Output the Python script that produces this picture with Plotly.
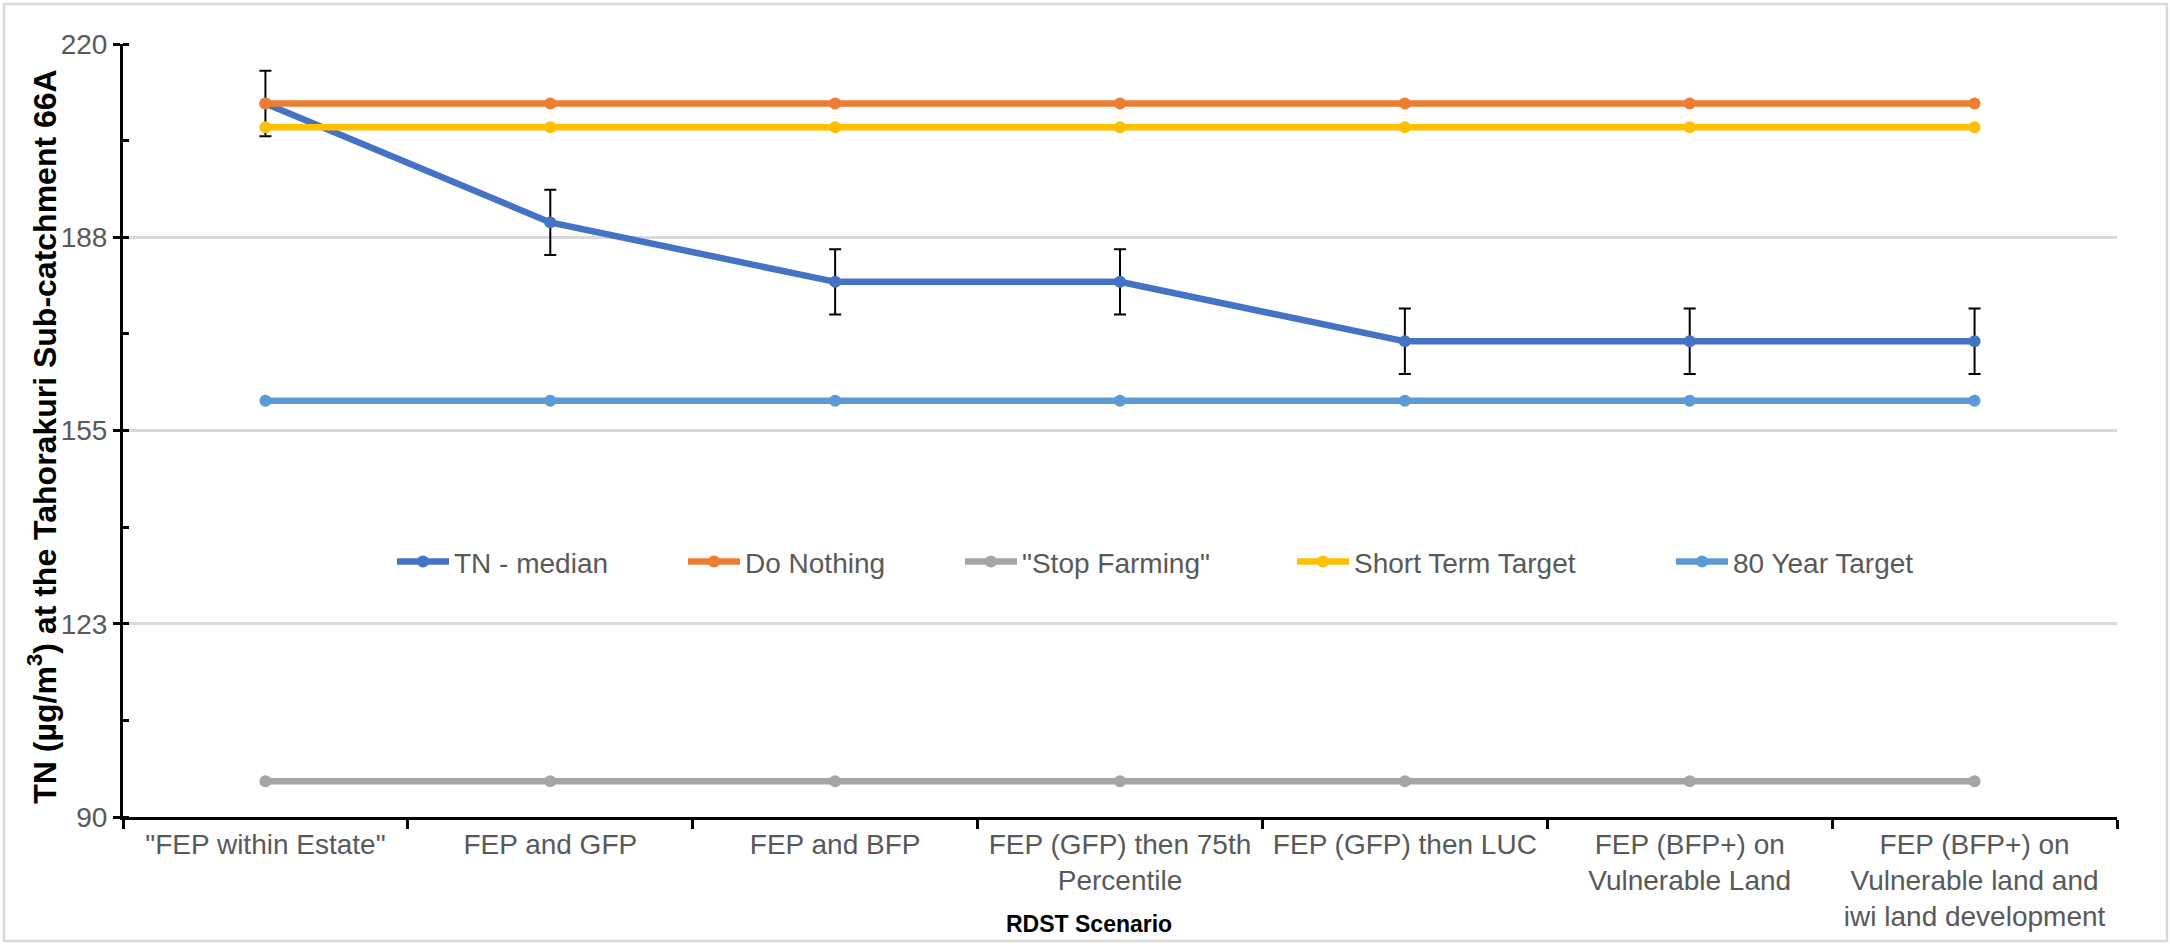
import plotly.graph_objects as go

# RDST scenarios along the x axis
scenarios = [
    '"FEP within Estate"',
    "FEP and GFP",
    "FEP and BFP",
    "FEP (GFP) then 75th<br>Percentile",
    "FEP (GFP) then LUC",
    "FEP (BFP+) on<br>Vulnerable Land",
    "FEP (BFP+) on<br>Vulnerable land and<br>iwi land development",
]

# TN concentrations (µg/m³)
tn_median = [210, 190, 180, 180, 170, 170, 170]
tn_error = [5.5, 5.5, 5.5, 5.5, 5.5, 5.5, 5.5]
do_nothing = [210, 210, 210, 210, 210, 210, 210]
stop_farming = [96, 96, 96, 96, 96, 96, 96]
short_term_target = [206, 206, 206, 206, 206, 206, 206]
year80_target = [160, 160, 160, 160, 160, 160, 160]

# y axis ticks
y_tickvals = [90, 122.5, 155, 187.5, 220]
y_ticktext = ["90", "123", "155", "188", "220"]

W, H = 2170, 944
ML, MR, MT, MB = 123, 53, 44, 127
PW, PH = W - ML - MR, H - MT - MB

FONT = "Liberation Sans, Arial, Helvetica, sans-serif"
TXT = "#595959"

series = [
    ("TN - median", tn_median, "#4472C4", True),
    ("Do Nothing", do_nothing, "#ED7D31", False),
    ('"Stop Farming"', stop_farming, "#A5A5A5", False),
    ("Short Term Target", short_term_target, "#FFC000", False),
    ("80 Year Target", year80_target, "#5B9BD5", False),
]

# left edge (px) of each legend entry, laid out in one row
legend_left_px = [392, 683, 960, 1292, 1671]
legend_ids = ["legend", "legend2", "legend3", "legend4", "legend5"]

fig = go.Figure()
for (name, vals, color, has_err), lid in zip(series, legend_ids):
    fig.add_trace(go.Scatter(
        x=scenarios, y=vals, name=name, mode="lines+markers",
        line=dict(color=color, width=6.5),
        marker=dict(color=color, size=12),
        legend=lid,
        error_y=dict(type="data", array=tn_error, visible=True,
                     color="black", thickness=2, width=6) if has_err else None,
    ))

legend_layout = {}
for lid, px in zip(legend_ids, legend_left_px):
    legend_layout[lid] = dict(
        orientation="h", x=(px - ML) / PW, y=0.33,
        xanchor="left", yanchor="middle",
        font=dict(family=FONT, size=28, color=TXT),
        itemwidth=52, bgcolor="rgba(0,0,0,0)",
    )

fig.update_layout(
    width=W, height=H,
    margin=dict(l=ML, r=MR, t=MT, b=MB, autoexpand=False),
    paper_bgcolor="white", plot_bgcolor="white",
    font=dict(family=FONT, size=28, color=TXT),
    showlegend=True,
    xaxis=dict(
        type="category", tickson="boundaries",
        showline=True, linecolor="black", linewidth=3,
        ticks="outside", ticklen=9, tickwidth=2.5, tickcolor="black",
        showgrid=False, automargin=False,
        tickfont=dict(family=FONT, size=28, color=TXT),
        range=[-0.5, len(scenarios) - 0.5],
    ),
    yaxis=dict(
        range=[90, 220], tickvals=y_tickvals, ticktext=y_ticktext,
        showline=True, linecolor="black", linewidth=3,
        ticks="outside", ticklen=7, tickwidth=2.5, tickcolor="black",
        showgrid=True, gridcolor="#D9D9D9", gridwidth=2.5,
        zeroline=False, automargin=False,
        tickfont=dict(family=FONT, size=28, color=TXT),
        minor=dict(ticks="inside", dtick=16.25, tick0=90, ticklen=6,
                   tickwidth=2.5, tickcolor="black", showgrid=False),
    ),
    annotations=[
        dict(text="TN (µg/m<sup>3</sup>) at the Tahorakuri Sub-catchment 66A",
             xref="paper", yref="paper", x=(42 - ML) / PW, y=0.492,
             textangle=-90, showarrow=False, xanchor="center", yanchor="middle",
             font=dict(family=FONT, size=32, color="black", weight="bold")),
        dict(text="RDST Scenario",
             xref="paper", yref="paper", x=(1089 - ML) / PW, y=(817 - 924) / PH,
             showarrow=False, xanchor="center", yanchor="middle",
             font=dict(family=FONT, size=23, color="black", weight="bold")),
    ],
    shapes=[
        dict(type="rect", xref="paper", yref="paper",
             x0=(4 - ML) / PW, x1=(W - 3 - ML) / PW,
             y0=-(H - 3 - MT - PH) / PH, y1=(H - 4 - MB) / PH,
             line=dict(color="#D9D9D9", width=2.5), layer="below"),
    ],
)
fig.update_layout(**legend_layout)

fig.write_html("out.html")
